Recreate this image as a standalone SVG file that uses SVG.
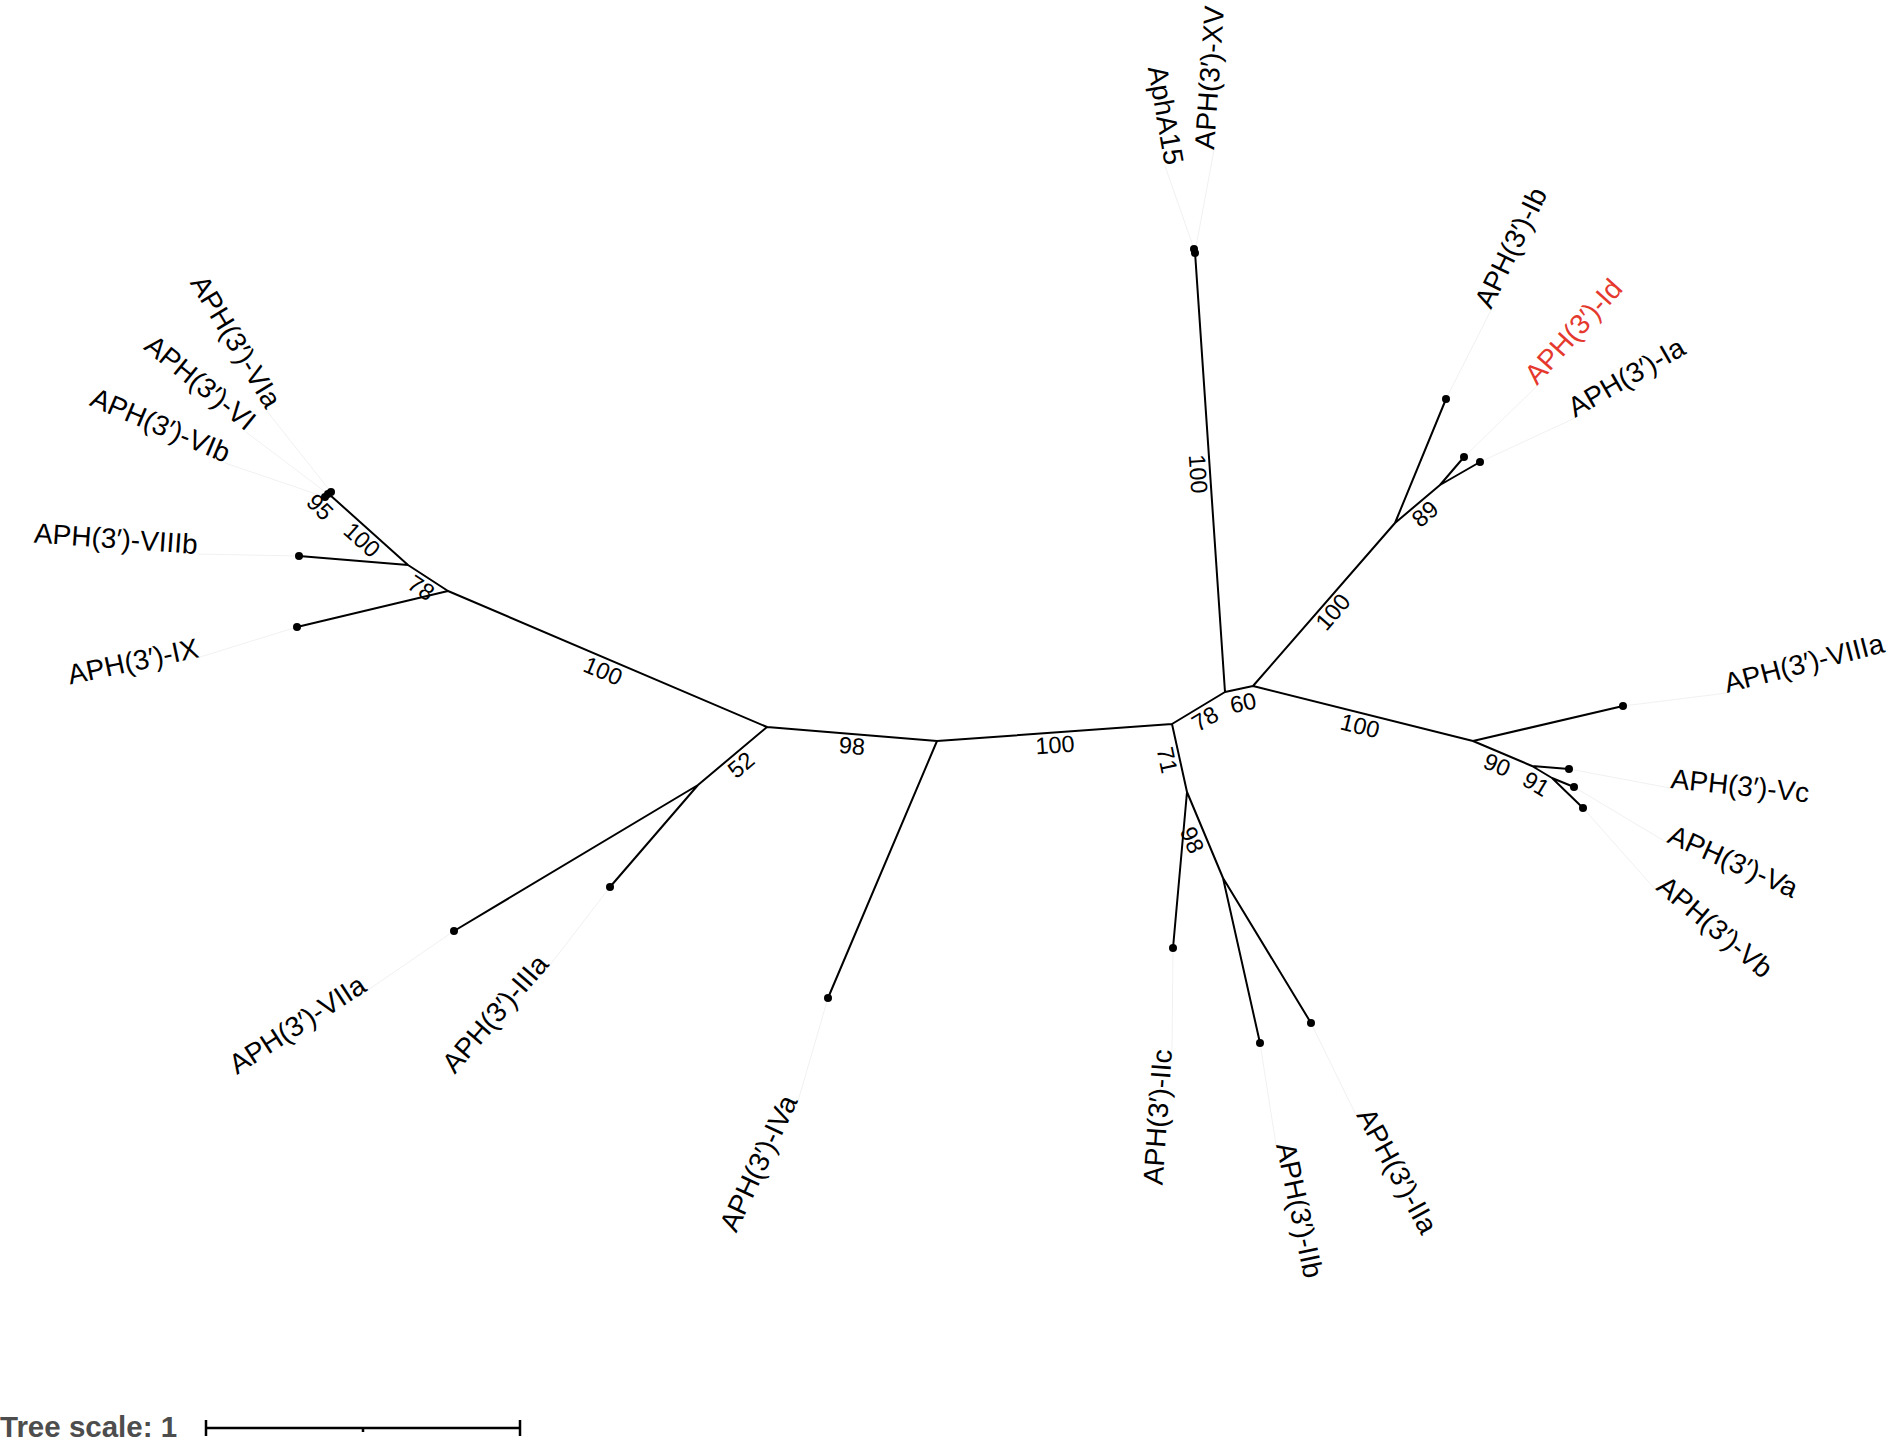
<svg xmlns="http://www.w3.org/2000/svg" width="1890" height="1440" viewBox="0 0 1890 1440">
<style>
.br{stroke:#000;stroke-width:2;fill:none;stroke-linecap:round}
.ld{stroke:#f1f1f1;stroke-width:1;fill:none}
.dot{fill:#000}
.lf{font-family:"Liberation Sans",Arial,sans-serif;font-size:28px;fill:#000}
.bs{font-family:"Liberation Sans",Arial,sans-serif;font-size:23.5px;fill:#000;text-anchor:middle;dominant-baseline:central}
.end{text-anchor:end}
.red{fill:#e5392e}
</style>
<rect width="1890" height="1440" fill="#fff"/>
<g id="connectors">
<path class="br" d="M408,565L330,495M408,565L299,556M448,591L408,565M448,591L297,627M767,727L448,591M767,727L698,785M698,785L454,931M698,785L610,887M767,727L937,741M937,741L828,998M937,741L1172,724M1172,724L1225,692M1225,692L1195,252M1225,692L1253,686M1253,686L1395,523M1395,523L1446,399M1395,523L1440,485M1440,485L1464,457M1440,485L1480,462M1253,686L1473,741M1473,741L1623,706M1473,741L1532,766M1532,766L1569,769M1532,766L1552,778M1552,778L1574,787M1552,778L1583,808M1172,724L1187,792M1187,792L1173,948M1187,792L1223,878M1223,878L1260,1043M1223,878L1311,1023"/>
<path class="ld" d="M331,492L266,410M328,494L246,432M325,497L225,463M299,556L197,554M297,627L200,657M454,931L368,990M610,887L550,965M828,998L798,1101M1173,948L1172,1050M1260,1043L1276,1145M1311,1023L1356,1115M1583,808L1655,889M1574,787L1666,842M1569,769L1670,788M1623,706L1727,693M1480,462L1575,418M1464,457L1537,386M1446,399L1491,310M1195,252L1214,150M1194,249L1165,166"/>
<text class="bs" transform="translate(320,507) rotate(45)">95</text>
<text class="bs" transform="translate(362,540) rotate(42)">100</text>
<text class="bs" transform="translate(421,588) rotate(33)">78</text>
<text class="bs" transform="translate(603,671) rotate(23)">100</text>
<text class="bs" transform="translate(741,765) rotate(-40)">52</text>
<text class="bs" transform="translate(852,746) rotate(5)">98</text>
<text class="bs" transform="translate(1055,745) rotate(-4)">100</text>
<text class="bs" transform="translate(1205,719) rotate(-31)">78</text>
<text class="bs" transform="translate(1243,703) rotate(-12)">60</text>
<text class="bs" transform="translate(1167,760) rotate(78)">71</text>
<text class="bs" transform="translate(1192,840) rotate(67)">98</text>
<text class="bs" transform="translate(1198,474) rotate(86)">100</text>
<text class="bs" transform="translate(1333,612) rotate(-49)">100</text>
<text class="bs" transform="translate(1425,514) rotate(-40)">89</text>
<text class="bs" transform="translate(1360,726) rotate(14)">100</text>
<text class="bs" transform="translate(1497,765) rotate(23)">90</text>
<text class="bs" transform="translate(1536,784) rotate(31)">91</text>
</g>
<g id="leaf-VIa"><circle class="dot" cx="331" cy="492" r="4"/><text class="lf end" transform="translate(266,410) rotate(59)">APH(3′)-VIa</text></g>
<g id="leaf-VI"><circle class="dot" cx="328" cy="494" r="4"/><text class="lf end" transform="translate(246,432) rotate(39)">APH(3′)-VI</text></g>
<g id="leaf-VIb"><circle class="dot" cx="325" cy="497" r="4"/><text class="lf end" transform="translate(225,463) rotate(23)">APH(3′)-VIb</text></g>
<g id="leaf-VIIIb"><circle class="dot" cx="299" cy="556" r="4"/><text class="lf end" transform="translate(197,554) rotate(4)">APH(3′)-VIIIb</text></g>
<g id="leaf-IX"><circle class="dot" cx="297" cy="627" r="4"/><text class="lf end" transform="translate(200,657) rotate(-12)">APH(3′)-IX</text></g>
<g id="leaf-VIIa"><circle class="dot" cx="454" cy="931" r="4"/><text class="lf end" transform="translate(368,990) rotate(-33)">APH(3′)-VIIa</text></g>
<g id="leaf-IIIa"><circle class="dot" cx="610" cy="887" r="4"/><text class="lf end" transform="translate(550,965) rotate(-49)">APH(3′)-IIIa</text></g>
<g id="leaf-IVa"><circle class="dot" cx="828" cy="998" r="4"/><text class="lf end" transform="translate(798,1101) rotate(-65)">APH(3′)-IVa</text></g>
<g id="leaf-IIc"><circle class="dot" cx="1173" cy="948" r="4"/><text class="lf end" transform="translate(1172,1050) rotate(-86)">APH(3′)-IIc</text></g>
<g id="leaf-IIb"><circle class="dot" cx="1260" cy="1043" r="4"/><text class="lf" transform="translate(1276,1145) rotate(78)">APH(3′)-IIb</text></g>
<g id="leaf-IIa"><circle class="dot" cx="1311" cy="1023" r="4"/><text class="lf" transform="translate(1356,1115) rotate(61.5)">APH(3′)-IIa</text></g>
<g id="leaf-Vb"><circle class="dot" cx="1583" cy="808" r="4"/><text class="lf" transform="translate(1655,889) rotate(40)">APH(3′)-Vb</text></g>
<g id="leaf-Va"><circle class="dot" cx="1574" cy="787" r="4"/><text class="lf" transform="translate(1666,842) rotate(24)">APH(3′)-Va</text></g>
<g id="leaf-Vc"><circle class="dot" cx="1569" cy="769" r="4"/><text class="lf" transform="translate(1670,788) rotate(6)">APH(3′)-Vc</text></g>
<g id="leaf-VIIIa"><circle class="dot" cx="1623" cy="706" r="4"/><text class="lf" transform="translate(1727,693) rotate(-14.5)">APH(3′)-VIIIa</text></g>
<g id="leaf-Ia"><circle class="dot" cx="1480" cy="462" r="4"/><text class="lf" transform="translate(1575,418) rotate(-30)">APH(3′)-Ia</text></g>
<g id="leaf-Id"><circle class="dot" cx="1464" cy="457" r="4"/><text class="lf red" transform="translate(1537,386) rotate(-48)">APH(3′)-Id</text></g>
<g id="leaf-Ib"><circle class="dot" cx="1446" cy="399" r="4"/><text class="lf" transform="translate(1491,310) rotate(-64)">APH(3′)-Ib</text></g>
<g id="leaf-XV"><circle class="dot" cx="1195" cy="253" r="4"/><text class="lf" transform="translate(1214,150) rotate(-86)">APH(3′)-XV</text></g>
<g id="leaf-AphA15"><circle class="dot" cx="1194" cy="249" r="4"/><text class="lf end" transform="translate(1165,166) rotate(80)">AphA15</text></g>
<g id="scale">
<text x="0" y="1437" style="font-family:'Liberation Sans',Arial,sans-serif;font-size:29.5px;font-weight:bold;fill:#4d4d4d">Tree scale: 1</text>
<path d="M206,1428H520M206,1420V1436M520,1420V1436M363,1428V1432" stroke="#000" stroke-width="2.5" fill="none"/>
</g>
</svg>
